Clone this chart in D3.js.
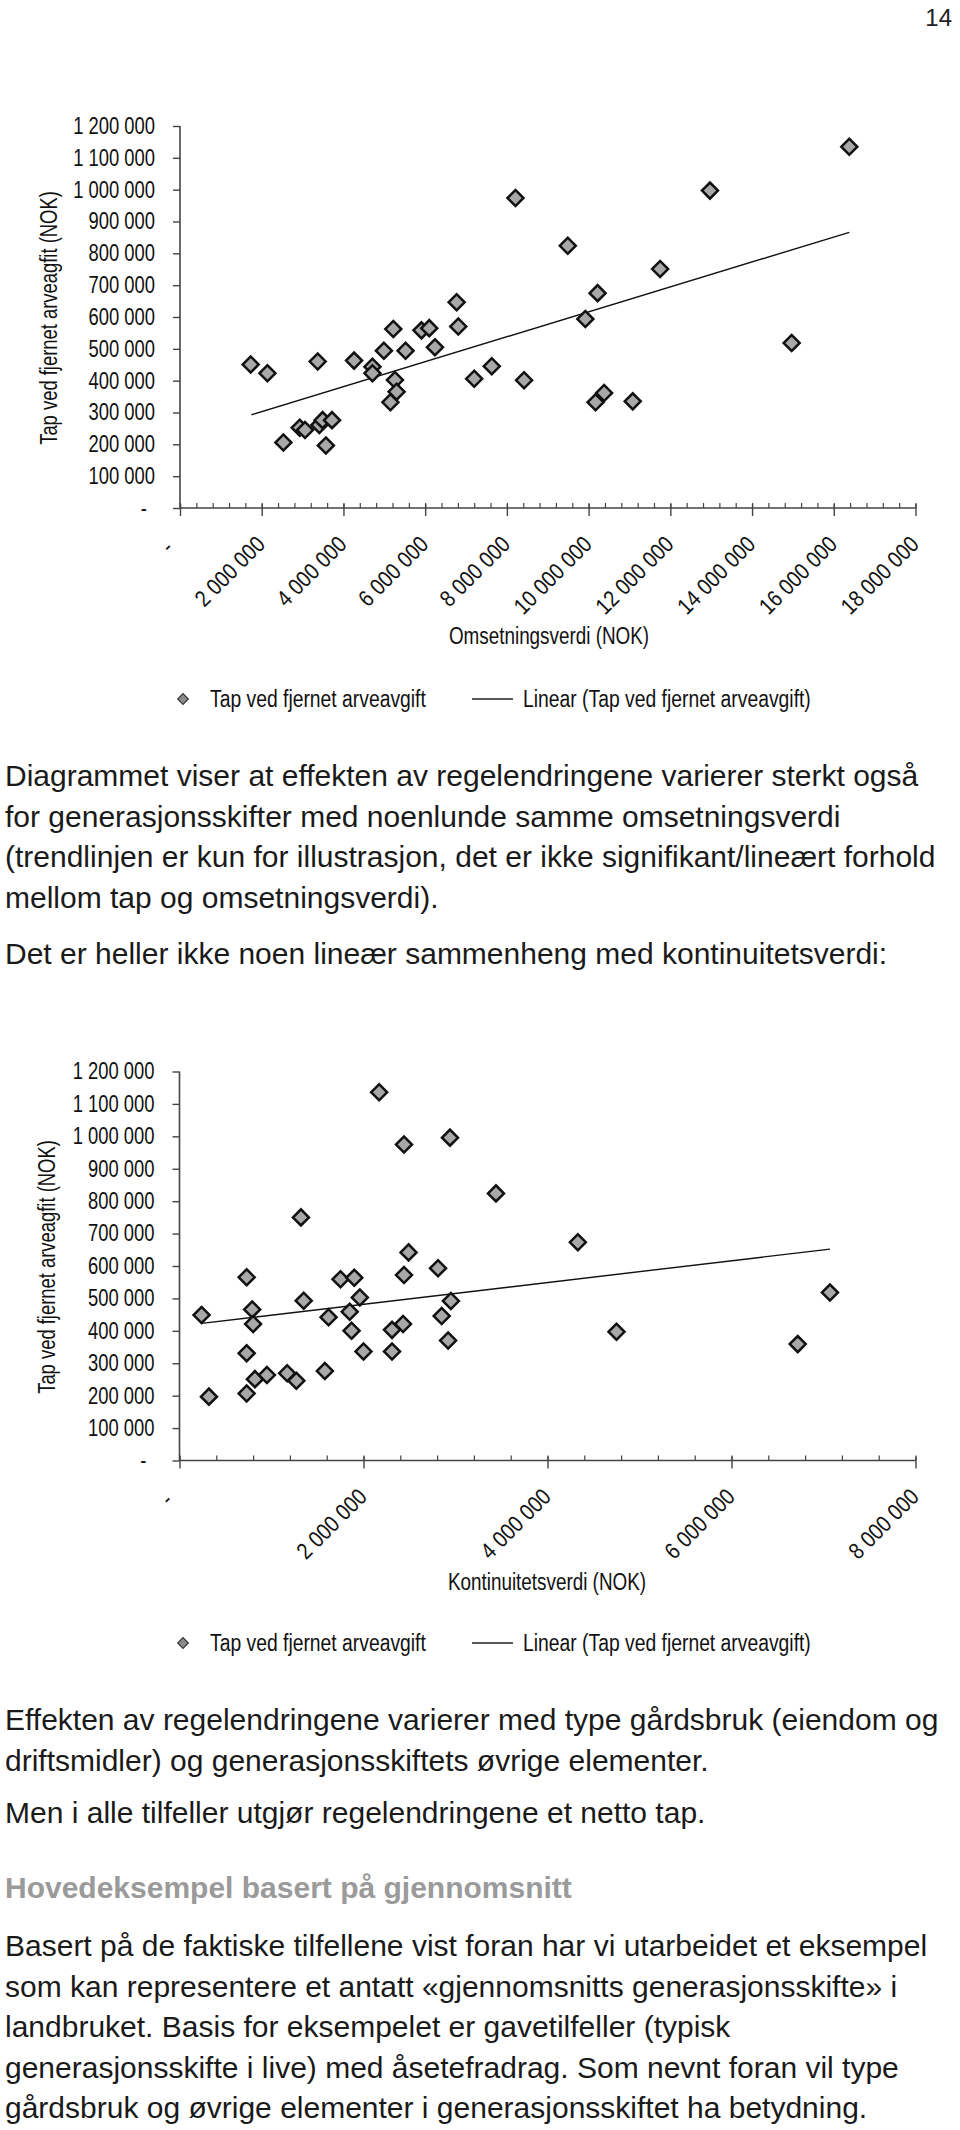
<!DOCTYPE html>
<html>
<head>
<meta charset="utf-8">
<script src="https://cdn.jsdelivr.net/npm/d3@7"></script>
<style>
  html, body { margin: 0; padding: 0; background: #fff; }
  svg { display: block; }
</style>
</head>
<body>
<svg id="page" width="960" height="2130"></svg>
<script>
// ---------- DATA ----------
// Chart 1: Omsetningsverdi (NOK) vs Tap ved fjernet arveavgift (NOK)
const omsetningsverdi = [1730000, 2140000, 2530000, 2930000, 3060000, 3370000, 3410000, 3490000, 3570000, 3720000,
  4260000, 4710000, 4710000, 4990000, 5220000, 5260000, 5300000, 5150000, 5520000, 5910000,
  6100000, 6240000, 6770000, 6810000, 7200000, 7630000, 8210000, 8420000, 9490000, 9920000,
  10170000, 10220000, 10380000, 11080000, 11750000, 12970000, 14970000, 16380000];
const tapOms = [451000, 423000, 206000, 252000, 245000, 460000, 261000, 276000, 196000, 276000,
  463000, 444000, 423000, 494000, 562000, 402000, 365000, 332000, 494000, 558000,
  565000, 505000, 646000, 570000, 406000, 445000, 974000, 401000, 824000, 594000,
  332000, 675000, 361000, 335000, 751000, 997000, 518000, 1135000];
const trendOmsX = [1750000, 16380000];
const trendOmsY = [293000, 866000];

// Chart 2: Kontinuitetsverdi (NOK) vs Tap ved fjernet arveavgift (NOK)
const kontinuitetsverdi = [240000, 320000, 730000, 790000, 800000, 730000, 820000, 950000, 730000, 1170000,
  1270000, 1320000, 1350000, 1580000, 1620000, 1750000, 1900000, 1850000, 1960000, 1870000,
  2000000, 2170000, 2310000, 2310000, 2430000, 2440000, 2490000, 2440000, 2810000, 2850000,
  2940000, 2950000, 2920000, 3440000, 4330000, 4750000, 7070000, 6720000];
const tapKont = [449000, 197000, 565000, 466000, 421000, 331000, 251000, 264000, 207000, 269000,
  246000, 750000, 493000, 276000, 442000, 559000, 564000, 459000, 503000, 400000,
  336000, 1136000, 403000, 336000, 421000, 975000, 642000, 572000, 593000, 446000,
  996000, 492000, 370000, 824000, 673000, 397000, 518000, 359000];
const trendKontX = [240000, 7070000];
const trendKontY = [423000, 652000];

const yTicks = [0, 100000, 200000, 300000, 400000, 500000, 600000, 700000, 800000, 900000, 1000000, 1100000, 1200000];
const xTicksOms = [0, 2000000, 4000000, 6000000, 8000000, 10000000, 12000000, 14000000, 16000000, 18000000];
const xTicksKont = [0, 2000000, 4000000, 6000000, 8000000];

const yTitle = "Tap ved fjernet arveagfit (NOK)";
const legendPoints = "Tap ved fjernet arveavgift";
const legendLine = "Linear (Tap ved fjernet arveavgift)";

const paragraph1 = [
  "Diagrammet viser at effekten av regelendringene varierer sterkt også",
  "for generasjonsskifter med noenlunde samme omsetningsverdi",
  "(trendlinjen er kun for illustrasjon, det er ikke signifikant/lineært forhold",
  "mellom tap og omsetningsverdi)."
];
const paragraph2 = ["Det er heller ikke noen lineær sammenheng med kontinuitetsverdi:"];
const paragraph3 = [
  "Effekten av regelendringene varierer med type gårdsbruk (eiendom og",
  "driftsmidler) og generasjonsskiftets øvrige elementer."
];
const paragraph4 = ["Men i alle tilfeller utgjør regelendringene et netto tap."];
const heading = "Hovedeksempel basert på gjennomsnitt";
const paragraph5 = [
  "Basert på de faktiske tilfellene vist foran har vi utarbeidet et eksempel",
  "som kan representere et antatt «gjennomsnitts generasjonsskifte» i",
  "landbruket. Basis for eksempelet er gavetilfeller (typisk",
  "generasjonsskifte i live) med åsetefradrag. Som nevnt foran vil type",
  "gårdsbruk og øvrige elementer i generasjonsskiftet ha betydning."
];

// ---------- DRAWING ----------
const svg = d3.select("#page");
const chartFont = "'Liberation Sans', Arial, sans-serif";
const bodyFont = "'Liberation Sans', Arial, Helvetica, sans-serif";
const fmt = d => d === 0 ? "-" : d3.format(",")(d).replace(/,/g, " ");
const FS = 23;    // chart font size
const SQ = 0.83;  // condensed look of the chart font

function squeeze(sel, k = SQ) {
  sel.each(function () {
    const l = this.getComputedTextLength();
    d3.select(this).attr("textLength", l * k).attr("lengthAdjust", "spacingAndGlyphs");
  });
}

function drawChart(opt) {
  const g = svg.append("g");
  const x = d3.scaleLinear().domain([0, opt.xMax]).range([opt.x0, opt.x1]);
  const y = d3.scaleLinear().domain([0, 1200000]).range([opt.yBottom, opt.yTop]);

  // y axis
  const ya = g.append("g").attr("transform", `translate(${opt.x0},0)`)
    .call(d3.axisLeft(y).tickValues(yTicks).tickSize(7).tickPadding(18).tickFormat(fmt));
  ya.select(".domain").remove();
  ya.selectAll(".tick line").attr("stroke", "#444").attr("stroke-width", 1.4);
  ya.selectAll(".tick text")
    .attr("font-family", chartFont).attr("font-size", FS).attr("fill", "#111")
    .attr("dx", d => d === 0 ? -8 : 0)
    .call(squeeze, 0.8);
  g.append("line").attr("x1", opt.x0).attr("x2", opt.x0).attr("y1", opt.yTop).attr("y2", opt.yBottom)
    .attr("stroke", "#444").attr("stroke-width", 1.6);

  // x axis minor ticks (inside)
  const minor = d3.range(0, opt.xMax + 1, 400000);
  const xm = g.append("g").attr("transform", `translate(0,${opt.yBottom})`)
    .call(d3.axisBottom(x).tickValues(minor).tickSize(-5).tickFormat(""));
  xm.select(".domain").remove();
  xm.selectAll(".tick line").attr("stroke", "#444").attr("stroke-width", 1.2);
  // major ticks (cross)
  const xM = g.append("g").attr("transform", `translate(0,${opt.yBottom})`)
    .call(d3.axisBottom(x).tickValues(opt.xTicks).tickSize(8).tickFormat(""));
  xM.select(".domain").remove();
  xM.selectAll(".tick line").attr("y1", -4).attr("stroke", "#444").attr("stroke-width", 1.4);
  g.append("line").attr("x1", opt.x0).attr("x2", opt.x1).attr("y1", opt.yBottom).attr("y2", opt.yBottom)
    .attr("stroke", "#444").attr("stroke-width", 1.6);

  // rotated x labels
  g.append("g").selectAll("text").data(opt.xTicks).join("text")
    .attr("transform", d => d === 0
      ? `translate(${x(d) - 11},${opt.yBottom + 36}) rotate(-45)`
      : `translate(${x(d) - 1},${opt.yBottom + 32}) rotate(-45)`)
    .attr("text-anchor", "end").attr("dy", "0.35em")
    .attr("font-family", chartFont).attr("font-size", FS).attr("fill", "#111")
    .text(fmt)
    .call(squeeze, 0.86);

  // axis titles
  g.append("text")
    .attr("transform", `translate(${opt.yTitleX},${opt.yTitleY}) rotate(-90)`)
    .attr("text-anchor", "middle").attr("dy", "0.35em")
    .attr("font-family", chartFont).attr("font-size", FS).attr("fill", "#111")
    .text(yTitle).call(squeeze, 0.8);
  g.append("text")
    .attr("x", opt.xTitleX).attr("y", opt.xTitleY).attr("dy", "0.35em")
    .attr("text-anchor", "middle")
    .attr("font-family", chartFont).attr("font-size", FS).attr("fill", "#111")
    .text(opt.xTitle).call(squeeze, 0.82);

  // trend line
  const line = d3.line().x(d => x(d[0])).y(d => y(d[1]));
  g.append("path").datum(opt.trendX.map((v, i) => [v, opt.trendY[i]]))
    .attr("d", line).attr("fill", "none").attr("stroke", "#111").attr("stroke-width", 1.4);

  // points
  const diamond = d3.symbol().type(d3.symbolSquare).size(128);
  g.append("g").selectAll("path").data(opt.xs.map((v, i) => [v, opt.ys[i]])).join("path")
    .attr("d", diamond)
    .attr("transform", d => `translate(${x(d[0])},${y(d[1])}) rotate(45)`)
    .attr("fill", "#a8a8a8").attr("stroke", "#111").attr("stroke-width", 2.5);

  // legend
  const ly = opt.legendY;
  g.append("path").attr("d", d3.symbol().type(d3.symbolSquare).size(56)())
    .attr("transform", `translate(183,${ly}) rotate(45)`)
    .attr("fill", "#8c8c8c").attr("stroke", "#333").attr("stroke-width", 1.2);
  g.append("text").attr("x", 210).attr("y", ly).attr("dy", "0.35em")
    .attr("font-family", chartFont).attr("font-size", FS).attr("fill", "#111").text(legendPoints).call(squeeze, 0.84);
  g.append("line").attr("x1", 472).attr("x2", 513).attr("y1", ly).attr("y2", ly)
    .attr("stroke", "#222").attr("stroke-width", 1.3);
  g.append("text").attr("x", 523).attr("y", ly).attr("dy", "0.35em")
    .attr("font-family", chartFont).attr("font-size", FS).attr("fill", "#111").text(legendLine).call(squeeze, 0.84);
}

drawChart({
  xs: omsetningsverdi, ys: tapOms, trendX: trendOmsX, trendY: trendOmsY,
  xMax: 18000000, xTicks: xTicksOms, x0: 180, x1: 915.5, yTop: 126, yBottom: 508,
  yTitleX: 49, yTitleY: 318, xTitle: "Omsetningsverdi (NOK)", xTitleX: 549, xTitleY: 636,
  legendY: 699
});
drawChart({
  xs: kontinuitetsverdi, ys: tapKont, trendX: trendKontX, trendY: trendKontY,
  xMax: 8000000, xTicks: xTicksKont, x0: 179.5, x1: 915.5, yTop: 1071.5, yBottom: 1460.5,
  yTitleX: 47, yTitleY: 1267, xTitle: "Kontinuitetsverdi (NOK)", xTitleX: 547, xTitleY: 1582,
  legendY: 1643
});

// page number
svg.append("text").attr("x", 952).attr("y", 26).attr("text-anchor", "end")
  .attr("font-family", bodyFont).attr("font-size", 24).attr("fill", "#222").text("14");

function paragraph(lines, y0, opts = {}) {
  svg.append("g").selectAll("text").data(lines).join("text")
    .attr("x", 5).attr("y", (d, i) => y0 + i * 40.5)
    .attr("font-family", bodyFont).attr("font-size", opts.size || 30)
    .attr("font-weight", opts.weight || "normal")
    .attr("fill", opts.color || "#1a1a1a")
    .text(d => d);
}
paragraph(paragraph1, 786);
paragraph(paragraph2, 964);
paragraph(paragraph3, 1730);
paragraph(paragraph4, 1823);
paragraph([heading], 1898, { weight: "bold", color: "#9a9a9a" });
paragraph(paragraph5, 1956);
</script>
</body>
</html>
